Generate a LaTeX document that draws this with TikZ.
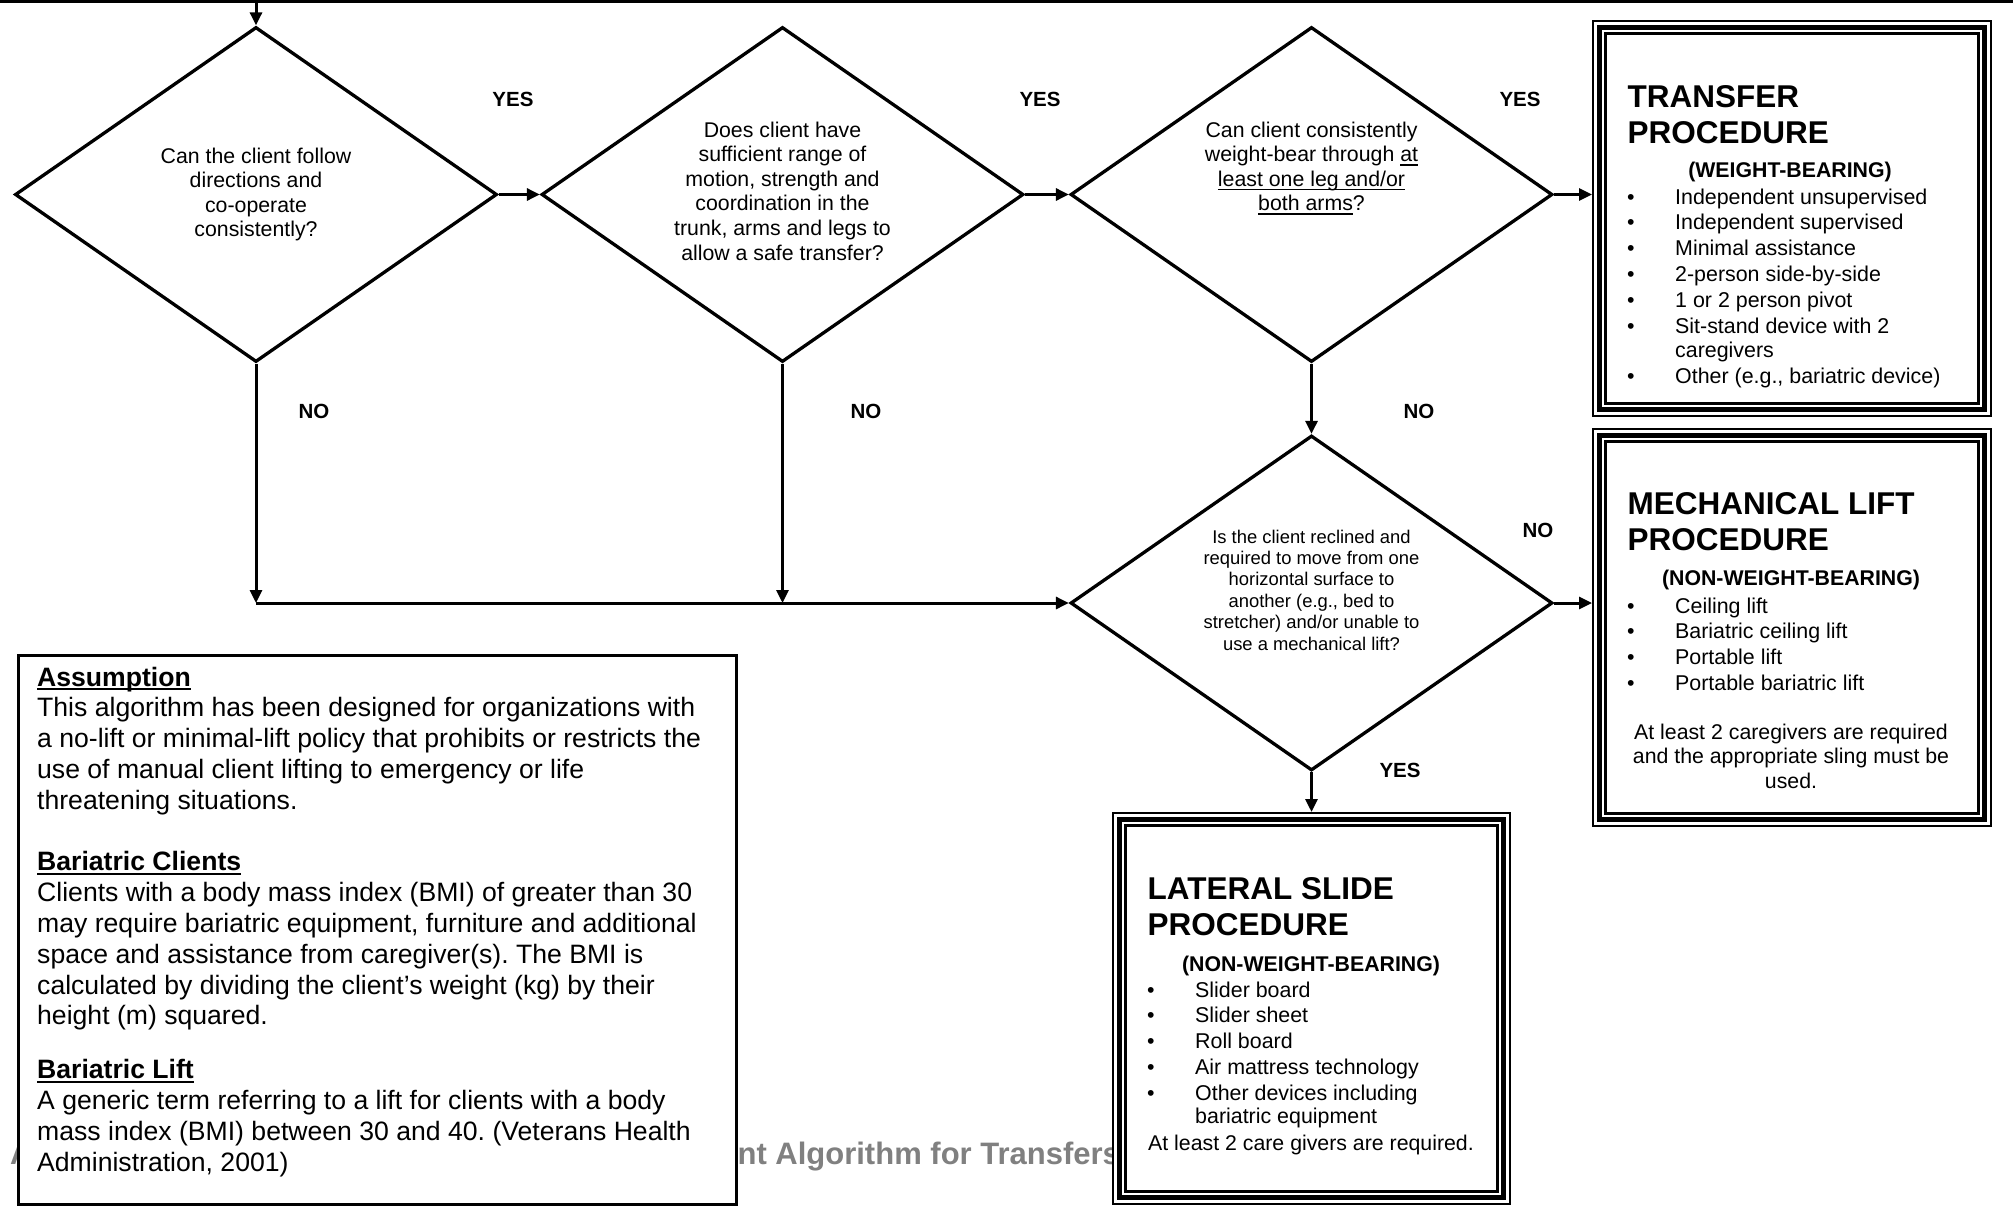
\documentclass[tikz,border=0pt]{standalone}
\usepackage{fontspec}
\setmainfont{Liberation Sans}
\usetikzlibrary{arrows.meta,shapes.geometric,positioning}
\definecolor{TitleGray}{RGB}{128,128,128}
\frenchspacing
\newcommand{\QFont}{\fontsize{21.3}{24.6}\selectfont}
\newcommand{\QSmall}{\fontsize{18.4}{21.4}\selectfont}
\newcommand{\AnsFont}{\bfseries\fontsize{20.5}{24}\selectfont}
\newcommand{\HeadFont}{\bfseries\fontsize{31.5}{36.5}\selectfont}
\newcommand{\SubFont}{\bfseries\fontsize{21.3}{25}\selectfont}
\newcommand{\ListFont}{\fontsize{21.4}{25.8}\selectfont}
\newcommand{\NoteFont}{\fontsize{21.3}{24.5}\selectfont}
\newcommand{\BodyFont}{\fontsize{26.6}{30.8}\selectfont}
\newcommand{\TitleFont}{\bfseries\fontsize{31}{36}\selectfont}
\newcommand{\Rows}[2]{\begin{tabular}[t]{@{}#1@{}}#2\end{tabular}}
\newcommand{\Uline}[1]{% fixed-depth underline
\setbox0\hbox{#1}\rlap{\rule[-4pt]{\wd0}{1.6pt}}\box0}
\newcommand{\TripleFrame}[1]{% node name
\draw[line width=2.3pt] ([shift={(1.15pt,-1.15pt)}]#1.north west) rectangle ([shift={(-1.15pt,1.15pt)}]#1.south east);
\draw[line width=5pt] ([shift={(7.5pt,-7.5pt)}]#1.north west) rectangle ([shift={(-7.5pt,7.5pt)}]#1.south east);
\draw[line width=2.7pt] ([shift={(13.65pt,-13.65pt)}]#1.north west) rectangle ([shift={(-13.65pt,13.65pt)}]#1.south east);
}

\begin{document}
\begin{tikzpicture}[x=1pt,y=-1pt,
  decision/.style={diamond,draw,line width=3.3pt,inner sep=0pt,minimum width=482pt,minimum height=335pt},
  flow/.style={line width=3pt,-{Triangle[length=13pt,width=12pt]}},
  procbox/.style={rectangle,fill=white,inner sep=0pt,outer sep=0pt,minimum width=400pt,anchor=north west},
  notebox/.style={rectangle,draw,fill=white,line width=3.5pt,inner sep=0pt,anchor=north west},
  txt/.style={inner sep=0pt,anchor=base},
  txtw/.style={inner sep=0pt,anchor=base west},
  answer/.style={font=\AnsFont,inner sep=0pt}]
\fill[white,use as bounding box] (0,0) rectangle (2013,1207);
% faded title, mostly hidden behind the boxes
\node[txtw,text=TitleGray,font=\TitleFont] (title) at (10,1164) {A\hspace{705pt}nt Algorithm for Transfers};
% top rule and entry point
\draw[line width=3pt] (0,1.5) -- (2013,1.5);
\coordinate (entry) at (256,3);

% questions
\node[decision] (q1) at (256,194.5) {};
\node[decision] (q2) at (782.5,194.5) {};
\node[decision] (q3) at (1311.5,194.5) {};
\node[decision] (q4) at (1311.5,603) {};
\node[txt,font=\QFont] (q1text) at (256,163) {\Rows{c}{Can the client follow\\directions and\\co-operate\\consistently?}};
\node[txt,font=\QFont] (q2text) at (782.5,137) {\Rows{c}{Does client have\\sufficient range of\\motion, strength and\\coordination in the\\trunk, arms and legs to\\allow a safe transfer?}};
\node[txt,font=\QFont] (q3text) at (1311.5,137) {\Rows{c}{Can client consistently\\weight-bear through \Uline{at}\\\Uline{least one leg and/or}\\\Uline{both arms}?}};
\node[txt,font=\QSmall] (q4text) at (1311.5,543) {\Rows{c}{Is the client reclined and\\required to move from one\\horizontal surface to\\another (e.g., bed to\\stretcher) and/or unable to\\use a mechanical lift?}};

% answers
\node[answer] (yes1) at (513,99) {YES};
\node[answer] (yes2) at (1040,99) {YES};
\node[answer] (yes3) at (1520,99) {YES};
\node[answer] (no1) at (314,411) {NO};
\node[answer] (no2) at (866,411) {NO};
\node[answer] (no3) at (1419,411) {NO};
\node[answer] (no4) at (1538,530) {NO};
\node[answer] (yes4) at (1400,770) {YES};

% transfer procedure
\node[procbox,minimum height=397pt] (transfer) at (1592,20) {};
\TripleFrame{transfer}
\node[txtw,font=\HeadFont] (transferhead) at (1627.5,107) {\Rows{l}{TRANSFER\\PROCEDURE}};
\node[txt,font=\SubFont] (transfersub) at (1790,177) {(WEIGHT-BEARING)};
\node[txtw,font=\ListFont] (transferlist) at (1627,204) {\Rows{p{48pt}@{}l}{%
\textbullet & Independent unsupervised\\
\textbullet & Independent supervised\\
\textbullet & Minimal assistance\\
\textbullet & 2-person side-by-side\\
\textbullet & 1 or 2 person pivot\\
\textbullet & Sit-stand device with 2\\[-1.6pt]
 & caregivers\\
\textbullet & Other (e.g., bariatric device)}};

% mechanical lift procedure
\node[procbox,minimum height=399pt] (mech) at (1592,428) {};
\TripleFrame{mech}
\node[txtw,font=\HeadFont] (mechhead) at (1627.5,514) {\Rows{l}{MECHANICAL LIFT\\PROCEDURE}};
\node[txt,font=\SubFont] (mechsub) at (1791,585) {(NON-WEIGHT-BEARING)};
\node[txtw,font=\ListFont] (mechlist) at (1627,613) {\Rows{p{48pt}@{}l}{%
\textbullet & Ceiling lift\\
\textbullet & Bariatric ceiling lift\\
\textbullet & Portable lift\\
\textbullet & Portable bariatric lift}};
\node[txt,font=\NoteFont] (mechnote) at (1791,739) {\Rows{c}{At least 2 caregivers are required\\and the appropriate sling must be\\used.}};

% lateral slide procedure
\node[procbox,minimum width=399pt,minimum height=393pt] (lateral) at (1112,812) {};
\TripleFrame{lateral}
\node[txtw,font=\HeadFont] (lateralhead) at (1147.5,899) {\Rows{l}{LATERAL SLIDE\\PROCEDURE}};
\node[txt,font=\SubFont] (lateralsub) at (1311,971) {(NON-WEIGHT-BEARING)};
\node[txtw,font=\ListFont] (laterallist) at (1147,997) {\Rows{p{48pt}@{}l}{%
\textbullet & Slider board\\
\textbullet & Slider sheet\\
\textbullet & Roll board\\
\textbullet & Air mattress technology\\
\textbullet & Other devices including\\[-2.5pt]
 & bariatric equipment}};
\node[txtw,font=\NoteFont] (lateralnote) at (1148,1150) {At least 2 care givers are required.};

% definitions
\node[notebox,minimum width=718pt,minimum height=549pt] (assume) at (16.5,653.5) {};
\node[txtw,font=\BodyFont] (assumetext) at (37,686) {\Rows{l}{%
\Uline{\textbf{Assumption}}\\
This algorithm has been designed for organizations with\\
a no-lift or minimal-lift policy that prohibits or restricts the\\
use of manual client lifting to emergency or life\\
threatening situations.\\
\\
\Uline{\textbf{Bariatric Clients}}\\
Clients with a body mass index (BMI) of greater than 30\\
may require bariatric equipment, furniture and additional\\
space and assistance from caregiver(s). The BMI is\\
calculated by dividing the client’s weight (kg) by their\\
height (m) squared.\\[23pt]
\Uline{\textbf{Bariatric Lift}}\\
A generic term referring to a lift for clients with a body\\
mass index (BMI) between 30 and 40. (Veterans Health\\
Administration, 2001)}};

% connectors
\draw[flow] (entry) -- (q1.north);
\draw[flow] (q1.east) -- (q2.west);
\draw[flow] (q2.east) -- (q3.west);
\draw[flow] (q3.east) -- (q3.east -| transfer.west);
\draw[flow] (q3.south) -- (q4.north);
\draw[flow] (q4.east) -- (q4.east -| mech.west);
\draw[flow] (q4.south) -- (lateral.north);
% the two NO branches join before the reclined question
\coordinate (join1) at (q1.south |- q4.west);
\coordinate (join2) at (q2.south |- q4.west);
\draw[flow] (q1.south) -- (join1);
\draw[flow] (q2.south) -- (join2);
\draw[flow] (join1) -- (q4.west);
\end{tikzpicture}
\end{document}
